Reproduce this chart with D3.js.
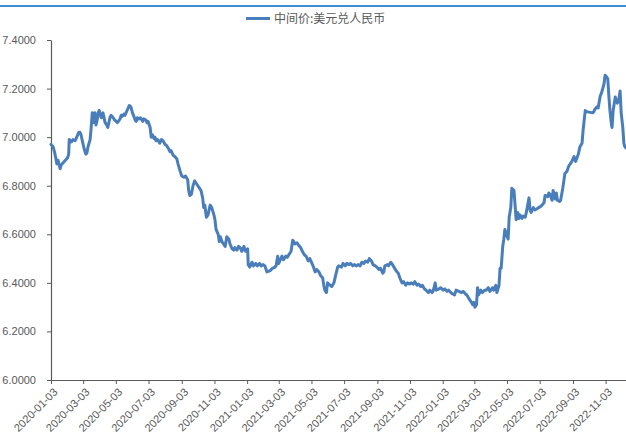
<!DOCTYPE html>
<html><head><meta charset="utf-8">
<script src="https://cdn.jsdelivr.net/npm/d3@7"></script>
<style>body{margin:0;background:#fff}svg{display:block}</style>
</head><body><svg id="c" width="626" height="443"></svg>
<script>
const seriesName = "中间价:美元兑人民币";
const dates = [
"2020-01-03","2020-01-07","2020-01-10","2020-01-14","2020-01-16","2020-01-20","2020-01-22","2020-02-03","2020-02-05","2020-02-06",
"2020-02-10","2020-02-13","2020-02-17","2020-02-20","2020-02-24","2020-02-26","2020-02-28","2020-03-02","2020-03-05","2020-03-08",
"2020-03-10","2020-03-12","2020-03-16","2020-03-18","2020-03-20","2020-03-23","2020-03-25","2020-03-27","2020-03-30","2020-03-31",
"2020-04-02","2020-04-06","2020-04-09","2020-04-13","2020-04-16","2020-04-18","2020-04-22","2020-04-24","2020-04-28","2020-05-01",
"2020-05-06","2020-05-11","2020-05-13","2020-05-15","2020-05-18","2020-05-20","2020-05-22","2020-05-26","2020-05-28","2020-05-31",
"2020-06-03","2020-06-05","2020-06-08","2020-06-10","2020-06-12","2020-06-15","2020-06-18","2020-06-22","2020-06-24","2020-06-28",
"2020-06-30","2020-07-02","2020-07-06","2020-07-08","2020-07-10","2020-07-13","2020-07-15","2020-07-17","2020-07-20","2020-07-24",
"2020-07-27","2020-07-30","2020-08-03","2020-08-06","2020-08-10","2020-08-12","2020-08-14","2020-08-18","2020-08-21","2020-08-25",
"2020-08-27","2020-08-31","2020-09-03","2020-09-07","2020-09-10","2020-09-14","2020-09-16","2020-09-18","2020-09-21","2020-09-24",
"2020-09-27","2020-09-30","2020-10-09","2020-10-12","2020-10-14","2020-10-16","2020-10-19","2020-10-22","2020-10-26","2020-10-29",
"2020-11-02","2020-11-04","2020-11-06","2020-11-10","2020-11-12","2020-11-14","2020-11-17","2020-11-20","2020-11-23","2020-11-26",
"2020-11-30","2020-12-02","2020-12-06","2020-12-09","2020-12-11","2020-12-15","2020-12-18","2020-12-21","2020-12-24","2020-12-28",
"2020-12-31","2021-01-04","2021-01-05","2021-01-08","2021-01-12","2021-01-15","2021-01-19","2021-01-22","2021-01-26","2021-01-29",
"2021-02-02","2021-02-05","2021-02-09","2021-02-15","2021-02-19","2021-02-24","2021-02-26","2021-03-01","2021-03-03","2021-03-05",
"2021-03-09","2021-03-12","2021-03-16","2021-03-19","2021-03-23","2021-03-26","2021-03-29","2021-03-31","2021-04-02","2021-04-06",
"2021-04-09","2021-04-13","2021-04-16","2021-04-20","2021-04-23","2021-04-27","2021-04-30","2021-05-06","2021-05-10","2021-05-13",
"2021-05-17","2021-05-20","2021-05-24","2021-05-26","2021-05-28","2021-05-31","2021-06-02","2021-06-07","2021-06-10","2021-06-14",
"2021-06-17","2021-06-21","2021-06-23","2021-06-28","2021-07-01","2021-07-05","2021-07-08","2021-07-12","2021-07-15","2021-07-19",
"2021-07-22","2021-07-26","2021-07-29","2021-08-02","2021-08-05","2021-08-09","2021-08-12","2021-08-16","2021-08-19","2021-08-23",
"2021-08-26","2021-08-30","2021-09-02","2021-09-06","2021-09-09","2021-09-13","2021-09-15","2021-09-17","2021-09-22","2021-09-24",
"2021-09-28","2021-09-30","2021-10-08","2021-10-12","2021-10-15","2021-10-19","2021-10-22","2021-10-26","2021-10-29","2021-11-02",
"2021-11-05","2021-11-09","2021-11-12","2021-11-16","2021-11-19","2021-11-23","2021-11-26","2021-11-30","2021-12-03","2021-12-07",
"2021-12-10","2021-12-14","2021-12-16","2021-12-20","2021-12-22","2021-12-27","2021-12-30","2022-01-04","2022-01-07","2022-01-11",
"2022-01-14","2022-01-18","2022-01-21","2022-01-25","2022-01-28","2022-02-07","2022-02-10","2022-02-14","2022-02-17","2022-02-21",
"2022-02-24","2022-02-28","2022-03-02","2022-03-04","2022-03-07","2022-03-09","2022-03-11","2022-03-15","2022-03-18","2022-03-22",
"2022-03-25","2022-03-29","2022-04-01","2022-04-06","2022-04-08","2022-04-12","2022-04-14","2022-04-18","2022-04-20","2022-04-22",
"2022-04-25","2022-04-27","2022-04-29","2022-05-05","2022-05-07","2022-05-10","2022-05-12","2022-05-16","2022-05-18","2022-05-20",
"2022-05-23","2022-05-25","2022-05-27","2022-05-31","2022-06-02","2022-06-06","2022-06-08","2022-06-13","2022-06-15","2022-06-17",
"2022-06-21","2022-06-24","2022-06-28","2022-07-01","2022-07-05","2022-07-07","2022-07-11","2022-07-13","2022-07-18","2022-07-20",
"2022-07-22","2022-07-26","2022-07-28","2022-08-01","2022-08-03","2022-08-05","2022-08-09","2022-08-11","2022-08-15","2022-08-17",
"2022-08-19","2022-08-23","2022-08-26","2022-08-29","2022-09-01","2022-09-05","2022-09-08","2022-09-13","2022-09-16","2022-09-20",
"2022-09-22","2022-09-26","2022-09-28","2022-10-10","2022-10-12","2022-10-14","2022-10-18","2022-10-20","2022-10-24","2022-10-26",
"2022-10-28","2022-10-31","2022-11-02","2022-11-04","2022-11-07","2022-11-09","2022-11-11","2022-11-14","2022-11-15","2022-11-17",
"2022-11-21","2022-11-23","2022-11-25","2022-11-28","2022-11-30","2022-12-02","2022-12-05","2022-12-07","2022-12-09","2022-12-11"
];
const rates = [
6.97,6.96,6.935,6.89,6.905,6.87,6.885,6.915,6.93,6.99,
6.98,6.99,6.985,7.00,7.02,7.02,7.01,6.98,6.95,6.93,
6.935,6.96,6.99,7.04,7.10,7.06,7.10,7.05,7.08,7.10,
7.11,7.08,7.10,7.06,7.05,7.04,7.08,7.09,7.08,7.07,
7.06,7.075,7.09,7.085,7.095,7.09,7.10,7.12,7.13,7.125,
7.10,7.09,7.07,7.065,7.08,7.075,7.08,7.065,7.075,7.07,
7.06,7.065,7.04,7.00,7.01,6.995,7.00,6.985,6.99,6.975,
6.99,6.985,6.97,6.965,6.95,6.94,6.945,6.925,6.92,6.91,
6.89,6.86,6.84,6.835,6.84,6.825,6.78,6.76,6.765,6.80,
6.82,6.81,6.78,6.75,6.71,6.72,6.67,6.68,6.72,6.71,
6.68,6.66,6.62,6.60,6.57,6.59,6.57,6.56,6.55,6.59,
6.58,6.56,6.54,6.535,6.545,6.535,6.55,6.545,6.53,6.55,
6.53,6.54,6.475,6.465,6.485,6.47,6.48,6.47,6.48,6.47,
6.475,6.47,6.445,6.45,6.46,6.465,6.47,6.51,6.48,6.49,
6.51,6.495,6.51,6.505,6.52,6.53,6.575,6.57,6.56,6.565,
6.555,6.545,6.53,6.515,6.51,6.49,6.50,6.47,6.445,6.455,
6.445,6.43,6.42,6.39,6.37,6.36,6.40,6.39,6.385,6.40,
6.43,6.465,6.47,6.465,6.48,6.47,6.48,6.475,6.48,6.47,
6.475,6.47,6.475,6.47,6.485,6.48,6.49,6.485,6.50,6.49,
6.475,6.47,6.465,6.455,6.46,6.44,6.445,6.47,6.475,6.47,
6.485,6.48,6.45,6.44,6.42,6.40,6.405,6.39,6.40,6.395,
6.40,6.395,6.405,6.39,6.395,6.385,6.39,6.375,6.37,6.36,
6.37,6.36,6.365,6.40,6.37,6.375,6.38,6.37,6.375,6.365,
6.37,6.36,6.355,6.35,6.37,6.36,6.365,6.355,6.35,6.335,
6.325,6.31,6.32,6.30,6.31,6.38,6.35,6.37,6.36,6.37,
6.37,6.38,6.365,6.38,6.37,6.39,6.36,6.39,6.46,6.46,
6.55,6.58,6.62,6.58,6.67,6.71,6.79,6.78,6.72,6.66,
6.69,6.665,6.68,6.665,6.675,6.67,6.69,6.75,6.70,6.69,
6.71,6.70,6.705,6.71,6.715,6.72,6.73,6.76,6.755,6.77,
6.765,6.74,6.78,6.745,6.77,6.74,6.735,6.74,6.79,6.82,
6.85,6.86,6.88,6.89,6.90,6.92,6.90,6.93,6.96,6.975,
7.03,7.11,7.105,7.10,7.105,7.115,7.125,7.12,7.17,7.18,
7.195,7.22,7.255,7.25,7.24,7.17,7.11,7.05,7.04,7.11,
7.165,7.15,7.14,7.16,7.19,7.10,7.04,6.975,6.96,6.955
];
const yTicks = [6.0, 6.2, 6.4, 6.6, 6.8, 7.0, 7.2, 7.4];
const xTickLabels = ["2020-01-03","2020-03-03","2020-05-03","2020-07-03","2020-09-03","2020-11-03",
  "2021-01-03","2021-03-03","2021-05-03","2021-07-03","2021-09-03","2021-11-03",
  "2022-01-03","2022-03-03","2022-05-03","2022-07-03","2022-09-03","2022-11-03"];
const xDomain = ["2020-01-03","2022-12-11"];

const parse = d3.timeParse("%Y-%m-%d");
const data = dates.map((d, i) => ({date: parse(d), v: rates[i]}));
const svg = d3.select("#c");
const W = 626, H = 443;
const m = {left: 51, right: 626, top: 40, bottom: 380};
const lineColor = "#4a7ebb";
const textColor = "#595959";
const axisColor = "#5a5a5a";
const font = "'Liberation Sans', Arial, sans-serif";

svg.append("rect").attr("x",0).attr("y",0).attr("width",W).attr("height",H).attr("fill","#fff");
svg.append("rect").attr("x",0).attr("y",5).attr("width",W).attr("height",2).attr("fill","#3b8dd8");

const x = d3.scaleTime().domain(xDomain.map(parse)).range([m.left, m.right]);
const y = d3.scaleLinear().domain([6.0, 7.4]).range([m.bottom, m.top]);

// Y axis
const gy = svg.append("g").attr("transform", `translate(${m.left},0)`)
  .call(d3.axisLeft(y).tickValues(yTicks).tickFormat(d3.format(".4f")).tickSize(4).tickSizeOuter(0).tickPadding(11));
gy.select(".domain").attr("stroke", axisColor).attr("stroke-width", 1.2);
gy.selectAll(".tick line").attr("stroke", axisColor);
gy.selectAll(".tick text").attr("fill", textColor).attr("font-size", 11).attr("font-family", font);

// X axis
const gx = svg.append("g").attr("transform", `translate(0,${m.bottom})`)
  .call(d3.axisBottom(x).tickValues(xTickLabels.map(parse)).tickFormat(d3.timeFormat("%Y-%m-%d")).tickSize(4).tickSizeOuter(0));
gx.select(".domain").attr("stroke", axisColor).attr("stroke-width", 1.2);
gx.selectAll(".tick line").attr("stroke", axisColor);
gx.selectAll(".tick text")
  .attr("fill", textColor).attr("font-size", 11).attr("font-family", font)
  .attr("x", 0).attr("y", 0).attr("dy", "0.35em")
  .attr("text-anchor", "end")
  .attr("transform", "translate(4,10) rotate(-45)");

// Line
const line = d3.line().x(d => x(d.date)).y(d => y(d.v));
svg.append("path").datum(data)
  .attr("d", line).attr("fill", "none")
  .attr("stroke", lineColor).attr("stroke-width", 3)
  .attr("stroke-linejoin", "round").attr("stroke-linecap", "round");

// Legend
const lg = svg.append("g");
lg.append("line").attr("x1", 246).attr("x2", 270).attr("y1", 18.5).attr("y2", 18.5)
  .attr("stroke", lineColor).attr("stroke-width", 3);
lg.append("text").attr("x", 274).attr("y", 18.5).attr("dy", "0.35em")
  .attr("fill", textColor).attr("font-size", 12)
  .attr("font-family", "'Noto Sans CJK SC', sans-serif")
  .text(seriesName);
</script>
</body></html>
